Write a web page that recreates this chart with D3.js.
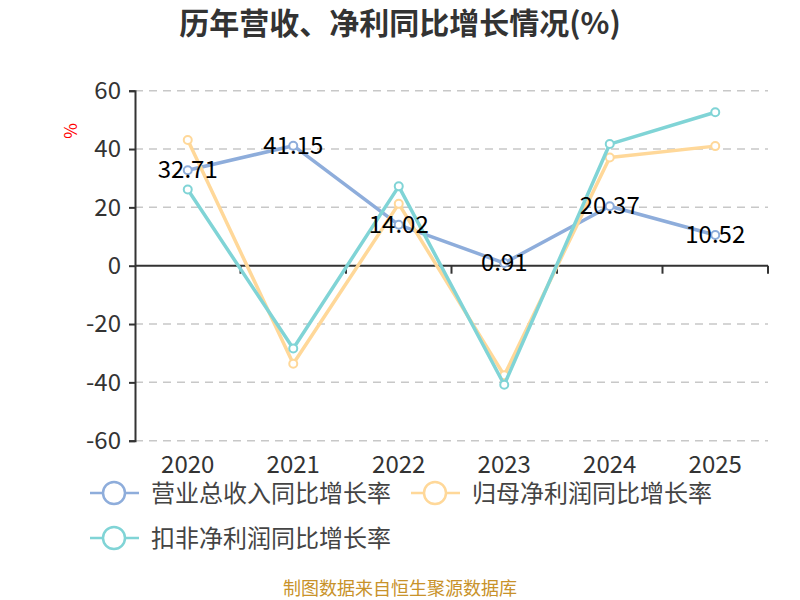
<!DOCTYPE html>
<html>
<head>
<meta charset="utf-8">
<script src="https://cdn.jsdelivr.net/npm/d3@7"></script>
<style>
  body { margin: 0; background: #fff; }
  svg { display: block; font-family: "Noto Sans CJK SC", "Noto Sans", sans-serif; }
</style>
</head>
<body>
<svg id="main-svg" width="800" height="600"></svg>
<script>
// chart data
var years = ['2020', '2021', '2022', '2023', '2024', '2025']
var revenueGrowth = [32.71, 41.15, 14.02, 0.91, 20.37, 10.52]
var netProfitGrowth = [43.1, -33.6, 21.2, -37.6, 37.1, 41.0]
var deductedProfitGrowth = [26.1, -28.4, 27.2, -40.8, 41.7, 52.6]
var yTicks = [-60, -40, -20, 0, 20, 40, 60]
var seriesNames = ['营业总收入同比增长率', '归母净利润同比增长率', '扣非净利润同比增长率']
var seriesColors = ['#8eaddb', '#ffd899', '#80d4d6']

var svg = d3.select('#main-svg')
var plotLeft = 135, plotRight = 768, plotTop = 90.7, plotBottom = 440.7

var x = d3.scaleBand().domain(years).range([plotLeft, plotRight])
var y = d3.scaleLinear().domain([-60, 60]).range([plotBottom, plotTop])
var cx = function(i) { return x(years[i]) + x.bandwidth() / 2 }

// title
svg.append('text')
    .attr('x', 400).attr('y', 34)
    .attr('text-anchor', 'middle')
    .attr('font-size', 30).attr('font-weight', 'bold')
    .attr('fill', '#333')
    .text('历年营收、净利同比增长情况(%)')

// unit label
svg.append('text')
    .attr('transform', 'translate(77,131) rotate(-90)')
    .attr('text-anchor', 'middle')
    .attr('font-size', 17).attr('fill', '#f00')
    .text('%')

// grid lines
svg.append('g').selectAll('line')
    .data(yTicks.filter(function(d) { return d != 0 }))
    .enter().append('line')
    .attr('x1', plotLeft).attr('x2', plotRight)
    .attr('y1', function(d) { return y(d) }).attr('y2', function(d) { return y(d) })
    .attr('stroke', '#c8c8c8').attr('stroke-width', 1.5)
    .attr('stroke-dasharray', '8,6')

// y axis
var yAxis = svg.append('g')
    .attr('transform', 'translate(' + plotLeft + ',0)')
    .call(d3.axisLeft(y).tickValues(yTicks).tickSize(6).tickPadding(8)
        .tickFormat(function(d) { return String(d) }))
yAxis.select('.domain').attr('stroke', '#333').attr('stroke-width', 2)
yAxis.selectAll('.tick line').attr('stroke', '#333').attr('stroke-width', 2)
yAxis.selectAll('text').attr('font-size', 24).attr('fill', '#333')
    .attr('font-family', '"Noto Sans CJK SC", sans-serif')

// x axis on zero line, ticks at category edges
var xAxis = svg.append('g')
    .attr('transform', 'translate(0,' + y(0) + ')')
xAxis.append('line')
    .attr('x1', plotLeft).attr('x2', plotRight)
    .attr('stroke', '#333').attr('stroke-width', 2)
var edges = years.slice(1).map(function(d) { return x(d) }).concat([x.range()[1]])
xAxis.selectAll('.edge').data(edges).enter().append('line')
    .attr('class', 'edge')
    .attr('x1', function(d) { return d }).attr('x2', function(d) { return d })
    .attr('y1', 0).attr('y2', 8)
    .attr('stroke', '#333').attr('stroke-width', 2)

// year labels below plot
svg.append('g').selectAll('text').data(years).enter().append('text')
    .attr('x', function(d, i) { return cx(i) })
    .attr('y', 473)
    .attr('text-anchor', 'middle')
    .attr('font-size', 24).attr('fill', '#333')
    .text(function(d) { return d })

// series lines
var allSeries = [revenueGrowth, netProfitGrowth, deductedProfitGrowth]
var line = d3.line()
    .x(function(d, i) { return cx(i) })
    .y(function(d) { return y(d) })

allSeries.forEach(function(values, k) {
    var g = svg.append('g')
    g.append('path')
        .datum(values)
        .attr('d', line)
        .attr('fill', 'none')
        .attr('stroke', seriesColors[k])
        .attr('stroke-width', 3.5)
        .attr('stroke-linejoin', 'round')
    g.selectAll('circle').data(values).enter().append('circle')
        .attr('cx', function(d, i) { return cx(i) })
        .attr('cy', function(d) { return y(d) })
        .attr('r', 4)
        .attr('fill', '#fff')
        .attr('stroke', seriesColors[k])
        .attr('stroke-width', 2)
})

// value labels for revenue series
svg.append('g').selectAll('text').data(revenueGrowth).enter().append('text')
    .attr('x', function(d, i) { return cx(i) })
    .attr('y', function(d) { return y(d) + 8 })
    .attr('text-anchor', 'middle')
    .attr('font-size', 24).attr('fill', '#000')
    .text(function(d) { return d.toFixed(2) })

// legend
var legendPos = [[90, 493], [411, 493], [90, 538]]
var legend = svg.append('g')
seriesNames.forEach(function(name, k) {
    var p = legendPos[k]
    var item = legend.append('g').attr('transform', 'translate(' + p[0] + ',' + p[1] + ')')
    item.append('line')
        .attr('x1', 0).attr('x2', 49)
        .attr('stroke', seriesColors[k]).attr('stroke-width', 2.5)
    item.append('circle')
        .attr('cx', 24).attr('r', 11)
        .attr('fill', '#fff')
        .attr('stroke', seriesColors[k]).attr('stroke-width', 2.5)
    item.append('text')
        .attr('x', 61).attr('y', 9)
        .attr('font-size', 24).attr('fill', '#444')
        .text(name)
})

// source note
svg.append('text')
    .attr('x', 400).attr('y', 595)
    .attr('text-anchor', 'middle')
    .attr('font-size', 18).attr('fill', '#c8922a')
    .text('制图数据来自恒生聚源数据库')
</script>
</body>
</html>
